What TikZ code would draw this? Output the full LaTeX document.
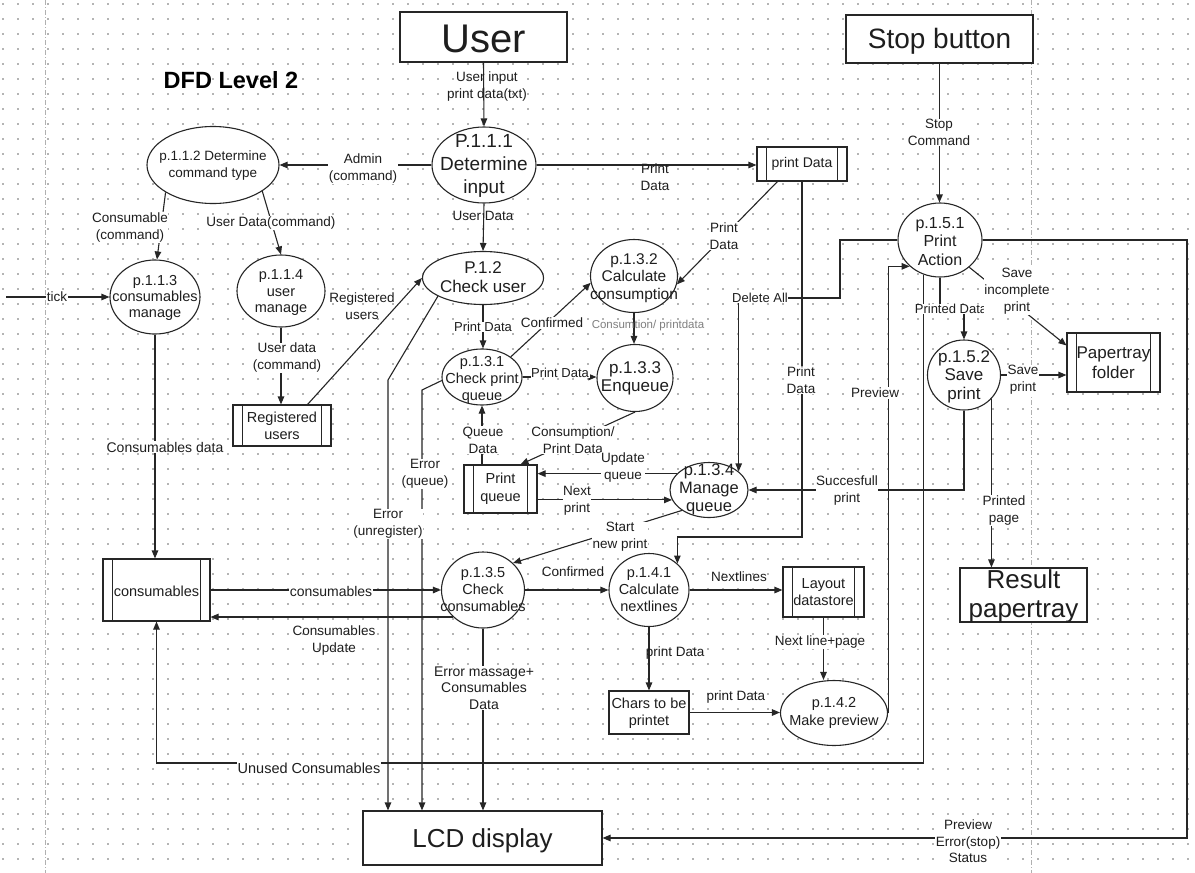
\documentclass[tikz,border=0pt]{standalone}
\usepackage{fontspec}
\setmainfont{Liberation Sans}
\usetikzlibrary{shapes.geometric,arrows.meta}
\definecolor{lc}{HTML}{262626}
\definecolor{tc}{HTML}{1E1E1E}
\definecolor{dotc}{HTML}{B4B4B4}
\definecolor{pagec}{HTML}{B0B0B0}
\newcommand{\fsz}[2]{\fontsize{#1}{#2}\selectfont}
\begin{document}
\begin{tikzpicture}[x=1pt,y=-1pt,
  ln/.style={draw=lc, line width=1.1pt},
  arr/.style={ln, -{Triangle[length=8pt,width=6.5pt]}},
  proc/.style={ellipse, draw=lc, line width=1.1pt, inner sep=0pt, fill=white},
  ptext/.style={align=center, text=tc, inner sep=0pt},
  ent/.style={rectangle, draw=lc, line width=1.3pt, fill=white, inner sep=0pt},
  store/.style={rectangle, draw=lc, line width=1.1pt, fill=white, inner sep=0pt,
    path picture={\draw[lc, line width=1.1pt]
      ([xshift=9.5pt]path picture bounding box.north west) -- ([xshift=9.5pt]path picture bounding box.south west)
      ([xshift=-9.5pt]path picture bounding box.north east) -- ([xshift=-9.5pt]path picture bounding box.south east);}},
  lab/.style={align=center, text=tc, inner sep=0.6pt, font=\fsz{13.5}{17}},
  labw/.style={lab, fill=white},
]
\useasboundingbox (0,0) rectangle (1195,873);
\fill[white] (0,0) rectangle (1195,873);
% dotted grid
\foreach \gx in {2,17,...,1195} {
  \foreach \gy in {3,18,...,873} {
    \fill[dotc] (\gx,\gy) rectangle ++(1.6,1.6);
  }
}
% page boundaries
\draw[pagec, line width=0.8pt, dash pattern=on 5pt off 2pt on 1pt off 2pt] (45,0) -- (45,873);
\draw[pagec, line width=0.8pt, dash pattern=on 5pt off 2pt on 1pt off 2pt] (1031,0) -- (1031,873);

% title
\node[text=black, font=\bfseries\fsz{23.5}{26}, inner sep=0pt] (title) at (231,80) {DFD Level 2};

% external entities
\node[ent, minimum width=167pt, minimum height=50pt] (user) at (483.5,37) {};
\node[ptext, font=\fsz{40}{44}, anchor=base] (tuser) at (484,52) {User};
\node[ent, minimum width=187pt, minimum height=48pt] (stop) at (939.5,39) {};
\node[ptext, font=\fsz{28}{32}, anchor=base] (tstop) at (939.5,48) {Stop button};
\node[ent, line width=1.1pt, minimum width=127pt, minimum height=54pt] (result) at (1023.5,595) {};
\node[ptext, font=\fsz{26}{29}] (tresult) at (1023.5,596) {Result\\papertray};
\node[ent, line width=1.1pt, minimum width=80pt, minimum height=43pt] (chars) at (649,712.5) {};
\node[ptext, font=\fsz{14.5}{17}] (tchars) at (649,713) {Chars to be\\printet};
\node[ent, line width=1.1pt, minimum width=239pt, minimum height=54pt] (lcd) at (482.5,838) {};
\node[ptext, font=\fsz{26}{29}, anchor=base] (tlcd) at (482.5,847) {LCD display};

% processes
\node[proc, minimum width=104pt, minimum height=76pt] (p111) at (484,165) {};
\node[ptext, font=\fsz{19}{23}] (t111) at (484,166) {P.1.1.1\\Determine\\input};
\node[proc, minimum width=132pt, minimum height=77pt] (p112) at (213,165) {};
\node[ptext, font=\fsz{13.5}{17}] (t112) at (213,166) {p.1.1.2 Determine\\command type};
\node[proc, minimum width=90pt, minimum height=74pt] (p113) at (155,297) {};
\node[ptext, font=\fsz{14.5}{16}] (t113) at (155,298) {p.1.1.3\\consumables\\manage};
\node[proc, minimum width=88pt, minimum height=72pt] (p114) at (281,291) {};
\node[ptext, font=\fsz{14.5}{16.5}] (t114) at (281,293) {p.1.1.4\\user\\manage};
\node[proc, minimum width=121pt, minimum height=53pt] (p12) at (483,278) {};
\node[ptext, font=\fsz{17}{19}] (t12) at (483,277) {P.1.2\\Check user};
\node[proc, minimum width=80pt, minimum height=56pt] (p131) at (482,377) {};
\node[ptext, font=\fsz{14.5}{17}] (t131) at (482,380) {p.1.3.1\\Check print\\queue};
\node[proc, minimum width=87pt, minimum height=73pt] (p132) at (634,276) {};
\node[ptext, font=\fsz{15.5}{17.5}] (t132) at (634,278) {p.1.3.2\\Calculate\\consumption};
\node[proc, minimum width=76pt, minimum height=67pt] (p133) at (635,378) {};
\node[ptext, font=\fsz{17}{18}] (t133) at (635,378) {p.1.3.3\\Enqueue};
\node[proc, minimum width=78pt, minimum height=55pt] (p134) at (709,490) {};
\node[ptext, font=\fsz{16.5}{18}] (t134) at (709,489) {p.1.3.4\\Manage\\queue};
\node[proc, minimum width=83pt, minimum height=76pt] (p135) at (483,590) {};
\node[ptext, font=\fsz{14.5}{17}] (t135) at (483,590) {p.1.3.5\\Check\\consumables};
\node[proc, minimum width=80pt, minimum height=73pt] (p141) at (649,590) {};
\node[ptext, font=\fsz{14.5}{17}] (t141) at (649,590) {p.1.4.1\\Calculate\\nextlines};
\node[proc, minimum width=107pt, minimum height=65pt] (p142) at (834,713) {};
\node[ptext, font=\fsz{14.5}{18}] (t142) at (834,713) {p.1.4.2\\Make preview};
\node[proc, minimum width=84pt, minimum height=74pt] (p151) at (940,240) {};
\node[ptext, font=\fsz{16}{18.5}] (t151) at (940,241.5) {p.1.5.1\\Print\\Action};
\node[proc, minimum width=73pt, minimum height=70pt] (p152) at (964,375) {};
\node[ptext, font=\fsz{17}{18.5}] (t152) at (964,376.5) {p.1.5.2\\Save\\print};

% data stores
\node[store, minimum width=98pt, minimum height=41pt] (regusers) at (282,425.5) {};
\node[ptext, font=\fsz{14.5}{17}] (tregusers) at (282,426) {Registered\\users};
\node[store, minimum width=73pt, minimum height=48pt] (printq) at (500.5,489) {};
\node[ptext, font=\fsz{14.5}{18}] (tprintq) at (500.5,489) {Print\\queue};
\node[store, minimum width=90pt, minimum height=34pt] (printdata) at (802,164) {};
\node[ptext, font=\fsz{14}{16}] (tprintdata) at (802,164) {print Data};
\node[store, minimum width=93pt, minimum height=59pt] (paperf) at (1113.5,362.5) {};
\node[ptext, font=\fsz{17}{20}] (tpaperf) at (1113.5,363) {Papertray\\folder};
\node[store, minimum width=107pt, minimum height=62pt] (cons) at (156.5,590) {};
\node[ptext, font=\fsz{14.5}{16}] (tcons) at (156.5,591) {consumables};
\node[store, minimum width=81pt, minimum height=50pt] (layout) at (823.5,592) {};
\node[ptext, font=\fsz{14.5}{17.5}] (tlayout) at (823.5,592) {Layout\\datastore};

% helper coordinates
\coordinate (tick0) at (6,297);
\coordinate (unb) at (924,763);
\coordinate (pdbend) at (951,309);

% connectors
\draw[arr] (user.south) -- (p111.north);
\draw[arr] (p111.west) -- (p112.east);
\draw[arr] (p111.east) -- (p111.east -| printdata.west);
\draw[arr] (p111.south) -- (p12.north);
\draw[arr] (p112.210) -- (p113.87);
\draw[arr] (p112.332) -- (p114.north);
\draw[arr] (tick0) -- (p113.west);
\draw[arr] (p113.south) -- (p113.south |- cons.north);
\draw[arr] (p114.south) -- (p114.south |- regusers.north);
\draw[arr] ([xshift=-24pt]regusers.north east) -- (p12.west);
\draw[arr] (p12.202) -- (388,380) -- (388,380 |- lcd.north);
\draw[arr] (p131.185) -- (422,390) -- (422,390 |- lcd.north);
\draw[arr] (p12.south) -- (p12.south |- p131.north);
\draw[arr] (p131.35) -- (p132.189);
\draw[arr] ([xshift=21pt]printdata.south west) -- (p132.349);
\draw[arr] (p132.south) -- (p132.south |- p133.north);
\draw[arr] (p131.east) -- (p131.east -| p133.west);
\draw[arr] (p133.south) -- ([xshift=-17pt]printq.north east);
\draw[arr] (p131.south |- printq.north) -- (p131.south);
\draw[arr] (p134.153) -- (p134.153 -| printq.east);
\draw[arr] (p134.195 -| printq.east) -- (p134.195);
\draw[arr] (p134.217) -- (p135.42);
\draw[arr] (printdata.south) -- (802,537) -| (p141.43);
\draw[arr] (p151.west) -| (840,298) -| (p134.32);
\draw[arr] (stop.south) -- (stop.south |- p151.north);
\draw[arr] (p151.south) |- (pdbend) -| (p152.north);
\draw[arr] (p151.245) -- (p151.245 |- unb) -| (cons.south);
\draw[arr] (p151.east) -| (1187,838) -- (lcd.east);
\draw[arr] (p142.east) |- (p151.221);
\draw[arr] (p151.317) -- ([yshift=-13pt]paperf.north west);
\draw[arr] (p152.east) -- (p152.east -| paperf.west);
\draw[arr] (p152.south) |- (p134.east);
\draw[arr] (p152.319) -- (p152.319 |- result.north);
\draw[arr] (cons.east) -- (p135.west);
\draw[arr] (p135.222) -- (p135.222 -| cons.east);
\draw[arr] (p135.south) -- (p135.south |- lcd.north);
\draw[arr] (p135.east) -- (p141.west);
\draw[arr] (p141.east) -- (p141.east -| layout.west);
\draw[arr] (p141.south) -- (chars.north);
\draw[arr] (chars.east) -- (chars.east -| p142.west);
\draw[arr] (layout.south) -- (p142.north -| layout.south);

% labels
\node[lab] (l1) at (487,87) {User input\\print data(txt)};
\node[labw] (l2) at (363,168.5) {Admin\\(command)};
\node[lab] (l3) at (655,177) {Print\\Data};
\node[lab] (l4) at (483,216) {User Data};
\node[labw] (l5) at (130,227.5) {Consumable\\(command)};
\node[labw] (l6) at (271,223) {User Data(command)};
\node[labw] (l7) at (57,297) {tick};
\node[labw, font=\fsz{14}{17}] (l8) at (165,447) {Consumables data};
\node[labw] (l9) at (287,358) {User data\\(command)};
\node[lab] (l10) at (362,306) {Registered\\users};
\node[labw] (l11) at (388,524) {Error\\(unregister)};
\node[labw] (l12) at (425,474) {Error\\(queue)};
\node[labw, font=\fsz{13}{16}] (l13) at (483,327) {Print Data};
\node[labw] (l14) at (552,323) {Confirmed};
\node[labw] (l15) at (724,236) {Print\\Data};
\node[lab, text=gray, font=\fsz{11.5}{14}] (l16) at (648,326) {Consumtion/ printdata};
\node[labw, font=\fsz{13}{16}] (l17) at (560,373) {Print Data};
\node[labw] (l18) at (573,440) {Consumption/\\Print Data};
\node[labw] (l19) at (483,440) {Queue\\Data};
\node[labw] (l20) at (623,467.5) {Update\\queue};
\node[labw] (l21) at (577,500.5) {Next\\print};
\node[labw] (l22) at (620,537) {Start\\new print};
\node[labw] (l23) at (801,380) {Print\\Data};
\node[labw, font=\fsz{13}{16}] (l24) at (760,298) {Delete All};
\node[labw] (l25) at (939,132.5) {Stop\\Command};
\node[labw, font=\fsz{13}{16}] (l26) at (pdbend) {Printed Data};
\node[labw, font=\fsz{14.5}{17}] (l27) at (309,768) {Unused Consumables};
\node[labw, font=\fsz{13.5}{16.5}] (l28) at (968,841.5) {Preview\\Error(stop)\\Status};
\node[labw] (l29) at (875,393) {Preview};
\node[labw] (l30) at (1017,291) {Save\\incomplete\\print};
\node[labw] (l31) at (1023,380) {Save\\print};
\node[labw] (l32) at (847,491) {Succesfull\\print};
\node[labw] (l33) at (1004,510.5) {Printed\\page};
\node[labw, font=\fsz{14}{17}] (l34) at (331,591) {consumables};
\node[lab] (l35) at (334,641) {Consumables\\Update};
\node[labw, font=\fsz{14}{16.5}] (l36) at (484,688) {Error massage+\\Consumables\\Data};
\node[lab] (l37) at (573,572) {Confirmed};
\node[lab] (l38) at (739,577) {Nextlines};
\node[lab, anchor=west] (l39) at (645,653) {print Data};
\node[lab] (l40) at (736,697) {print Data};
\node[labw] (l41) at (820,642) {Next line+page};
\end{tikzpicture}
\end{document}
